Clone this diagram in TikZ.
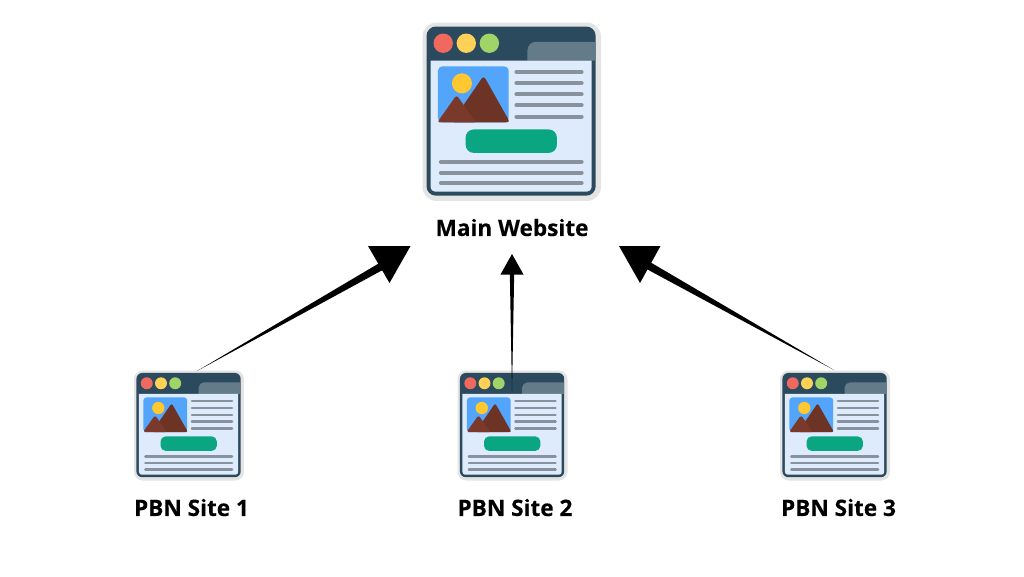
\documentclass[tikz,border=0pt]{standalone}
\usepackage{fontspec}
\setmainfont[BoldFeatures={FakeBold=0.25}]{Open Sans}
\usetikzlibrary{calc}
\definecolor{halo}{HTML}{E4E4E4}
\definecolor{frame}{HTML}{2C4A5E}
\definecolor{panel}{HTML}{DDEBFC}
\definecolor{tabc}{HTML}{647C8A}
\definecolor{dotr}{HTML}{F0695F}
\definecolor{doty}{HTML}{FFD257}
\definecolor{dotg}{HTML}{A0D468}
\definecolor{sky}{HTML}{52A5FB}
\definecolor{sun}{HTML}{FFC830}
\definecolor{mtnb}{HTML}{6D3324}
\definecolor{mtns}{HTML}{7A392A}
\definecolor{rule}{HTML}{87929C}
\definecolor{btn}{HTML}{0AA682}
\tikzset{
  x=1pt,y=-1pt,
  sitelabel/.style={font=\bfseries\fontsize{22.6}{26}\selectfont,text=black,inner sep=0pt,anchor=center},
  headfill/.style={fill=black,draw=none}
}
% #1 node name, #2 left, #3 top, #4 size (px)
\newcommand{\webicon}[4]{%
  \pgfmathsetmacro{\iu}{#4/534}%
  \node[draw=none,fill=none,minimum size=#4pt,inner sep=0pt] (#1) at ({#2+#4/2},{#3+#4/2}) {};
  \begin{scope}[shift={(#2,#3)},x=\iu pt,y=-\iu pt,shift={(-38,-38)}]
    \fill[halo,rounded corners=\iu*42pt] (38,38) rectangle (572,572);
    \fill[frame,rounded corners=\iu*28pt] (50,50) rectangle (556,556);
    \fill[tabc] (352,152) -- (352,121) .. controls (352,107) and (363,96) .. (377,96) -- (556,96) -- (556,152) -- cycle;
    \fill[panel] (62,152) -- (544,152) -- (544,530) .. controls (544,538) and (538,544) .. (530,544) -- (76,544) .. controls (68,544) and (62,538) .. (62,530) -- cycle;
    \fill[dotr] (100,100) circle[radius=29];
    \fill[doty] (169,100) circle[radius=29];
    \fill[dotg] (238,100) circle[radius=29];
    \fill[sky,rounded corners=\iu*14pt] (84,169) rectangle (296,337);
    \fill[sun] (156,220) circle[radius=30];
    \fill[mtnb,rounded corners=\iu*10pt] (221,197) -- (300,337) -- (125,337) -- cycle;
    \fill[mtns,rounded corners=\iu*8pt] (140,255) -- (198,337) -- (82,337) -- cycle;
    \foreach \ly in {186,219,253,286,320}
      \draw[rule,line width=\iu*12pt,line cap=round] (319,\ly) -- (514,\ly);
    \foreach \ly in {455,487,518}
      \draw[rule,line width=\iu*12pt,line cap=round] (93,\ly) -- (514,\ly);
    \fill[btn,rounded corners=\iu*24pt] (167,358) rectangle (440,428);
  \end{scope}
}
% tail coordinate, joint coordinate, half width, three head vertices
\newcommand{\taperarrow}[6]{%
  \fill[black] (#1) -- ($(#2)!#3!90:(#1)$) -- ($(#2)!#3!-90:(#1)$) -- cycle;
  \fill[headfill] (#4) -- (#5) -- (#6) -- cycle;
}
\begin{document}
\begin{tikzpicture}
  \useasboundingbox (0,0) rectangle (1024,576);
  \fill[white] (0,0) rectangle (1024,576);
  \webicon{main}{422.5}{22.5}{178.5}
  \webicon{siteA}{134}{370.5}{110}
  \webicon{siteB}{457.5}{370.5}{110}
  \webicon{siteC}{780}{370.5}{110}
  \node[sitelabel] (lmain) at (512,227.5) {Main Website};
  \node[sitelabel] (lA) at (191.5,507.5) {PBN Site 1};
  \node[sitelabel] (lB) at (515,507.5) {PBN Site 2};
  \node[sitelabel] (lC) at (838.5,507.5) {PBN Site 3};
  \coordinate (tA) at (197,371);
  \coordinate (jA) at (389,262);
  \coordinate (aA1) at (410.5,246);
  \coordinate (aA2) at (368,246);
  \coordinate (aA3) at (389.5,283);
  \coordinate (tB) at (512,392);
  \coordinate (jB) at (512,272);
  \coordinate (aB1) at (512,254);
  \coordinate (aB2) at (500.5,274.5);
  \coordinate (aB3) at (523.5,274.5);
  \coordinate (tC) at (834,370);
  \coordinate (jC) at (642,262);
  \coordinate (aC1) at (619,246);
  \coordinate (aC2) at (660.5,246);
  \coordinate (aC3) at (640,283);
  \taperarrow{tA}{jA}{4pt}{aA1}{aA2}{aA3}
  \taperarrow{tB}{jB}{2.2pt}{aB1}{aB2}{aB3}
  \taperarrow{tC}{jC}{4pt}{aC1}{aC2}{aC3}
\end{tikzpicture}
\end{document}
